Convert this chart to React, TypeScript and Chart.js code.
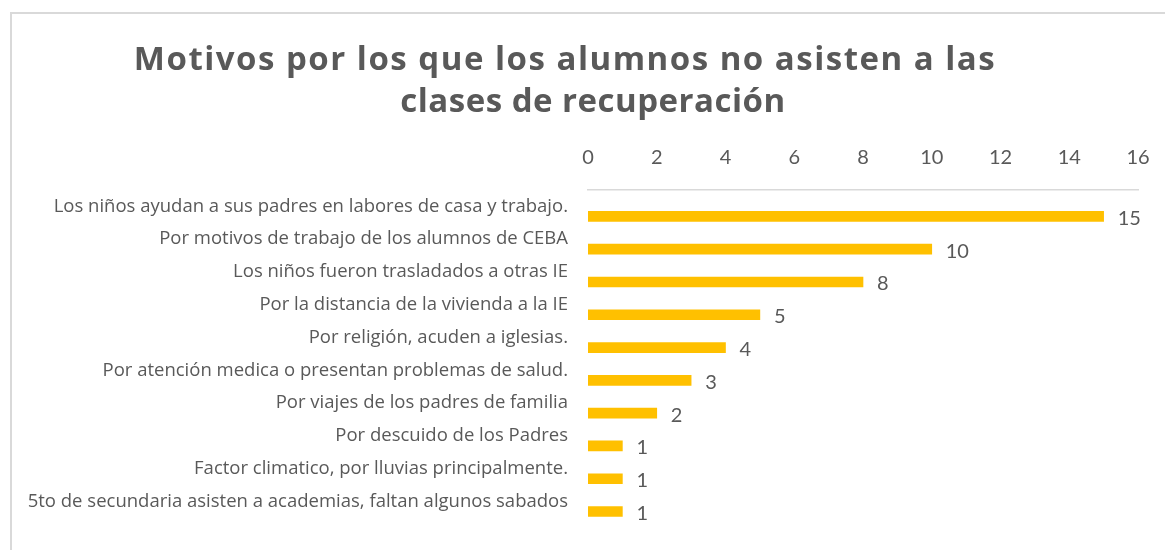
import React, { useEffect, useRef } from "react";
import { Chart, registerables } from "chart.js";

Chart.register(...registerables);

const titleLines = [
  "Motivos por los que los alumnos no asisten a las",
  "clases de recuperación",
];

const categories = [
  "Los niños ayudan a sus padres en labores de casa y trabajo.",
  "Por motivos de trabajo de los alumnos de CEBA",
  "Los niños fueron trasladados a otras IE",
  "Por la distancia de la vivienda a la IE",
  "Por religión, acuden a iglesias.",
  "Por atención medica o presentan problemas de salud.",
  "Por viajes de los padres de familia",
  "Por descuido de los Padres",
  "Factor climatico, por lluvias principalmente.",
  "5to de secundaria asisten a academias, faltan algunos sabados",
];

const values = [15, 10, 8, 5, 4, 3, 2, 1, 1, 1];

const axisMin = 0;
const axisMax = 16;
const axisStep = 2;

const GRAY = "#595959";
const BAR = "#FFC000";

const valueLabelPlugin = {
  id: "valueLabels",
  afterDatasetsDraw(chart: any) {
    const ctx = chart.ctx;
    const idx = chart.data.datasets.length - 1;
    const meta = chart.getDatasetMeta(idx);
    ctx.save();
    ctx.font = "20px Lato";
    ctx.fillStyle = GRAY;
    ctx.textAlign = "left";
    ctx.textBaseline = "middle";
    meta.data.forEach((bar: any, i: number) => {
      ctx.fillText(String(values[i]), bar.x + 14, bar.y + 2);
    });
    ctx.restore();
  },
};

// Two-line title, drawn as real text (lines centred as in the reference).
const titlePlugin = {
  id: "twoLineTitle",
  afterDraw(chart: any) {
    const ctx = chart.ctx;
    const offsets = [-32, -4];
    const baselines = [55.5, 97.5];
    const spacing = ["1.5px", "0.5px"];
    ctx.save();
    ctx.font = "bold 33px 'Open Sans'";
    ctx.fillStyle = GRAY;
    ctx.textAlign = "center";
    ctx.textBaseline = "alphabetic";
    titleLines.forEach((line, i) => {
      try {
        (ctx as any).letterSpacing = spacing[i];
      } catch (e) {}
      ctx.fillText(line, chart.width / 2 + offsets[i], baselines[i]);
    });
    ctx.restore();
  },
};

export default function App() {
  const ref = useRef<HTMLCanvasElement | null>(null);

  useEffect(() => {
    if (!ref.current) return;
    const empty = categories.map(() => null);
    const chart = new Chart(ref.current, {
      type: "bar",
      data: {
        labels: categories,
        datasets: [
          { label: "a", data: empty as any, backgroundColor: BAR },
          { label: "b", data: empty as any, backgroundColor: BAR },
          { label: "Motivos", data: values, backgroundColor: BAR },
        ],
      },
      options: {
        indexAxis: "y",
        responsive: false,
        animation: false,
        datasets: { bar: { barThickness: 10 } } as any,
        layout: { padding: { top: 112, left: 0, right: 44, bottom: 20 } },
        plugins: {
          legend: { display: false },
          tooltip: { enabled: false },
          title: { display: false },
        },
        scales: {
          x: {
            position: "top",
            min: axisMin,
            max: axisMax,
            ticks: {
              stepSize: axisStep,
              color: GRAY,
              font: { family: "Lato", size: 20 },
              padding: 20,
            },
            grid: { display: false, drawTicks: false },
            border: { display: true, color: "#d9d9d9", width: 1.5 },
            afterFit(scale: any) {
              scale.height = 64;
            },
          },
          y: {
            ticks: {
              color: GRAY,
              font: { family: "'Open Sans'", size: 18.5 },
              padding: 20,
              autoSkip: false,
            },
            grid: { display: false, drawTicks: false },
            border: { display: false },
            afterFit(scale: any) {
              scale.width = 576;
            },
          },
        },
      },
      plugins: [valueLabelPlugin, titlePlugin],
    });
    return () => chart.destroy();
  }, []);

  return (
    <div style={{ position: "fixed", inset: 0, overflow: "hidden", background: "#fff" }}>
      <div
        style={{
          position: "absolute",
          left: 10,
          top: 12,
          width: 1200,
          height: 600,
          border: "2px solid #d9d9d9",
          boxSizing: "border-box",
        }}
      >
        <canvas ref={ref} width={1170} height={535} style={{ display: "block" }} />
      </div>
    </div>
  );
}
